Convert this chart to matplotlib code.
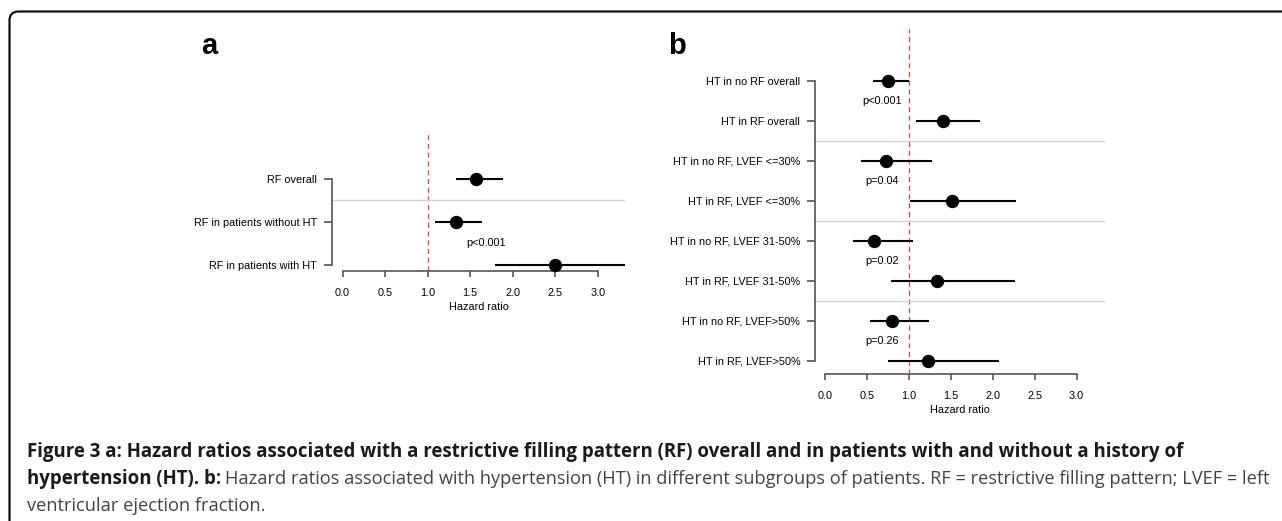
import numpy as np
import matplotlib
matplotlib.use('Agg')
import matplotlib.pyplot as plt
from matplotlib.patches import FancyBboxPatch
from matplotlib.transforms import IdentityTransform

W, H = 1282, 521

# panel a data
a_labels = ['RF overall', 'RF in patients without HT', 'RF in patients with HT']
a_hr = [1.57, 1.33, 2.50]
a_lo = [1.33, 1.09, 1.79]
a_hi = [1.89, 1.64, 3.60]
a_pvals = ['p<0.001']

# panel b data
b_labels = ['HT in no RF overall', 'HT in RF overall',
            'HT in no RF, LVEF <=30%', 'HT in RF, LVEF <=30%',
            'HT in no RF, LVEF 31-50%', 'HT in RF, LVEF 31-50%',
            'HT in no RF, LVEF>50%', 'HT in RF, LVEF>50%']
b_hr = [0.745, 1.41, 0.72, 1.51, 0.58, 1.33, 0.80, 1.23]
b_lo = [0.57, 1.08, 0.43, 1.01, 0.33, 0.78, 0.53, 0.75]
b_hi = [1.00, 1.85, 1.27, 2.28, 1.05, 2.26, 1.24, 2.07]
b_pvals = ['p<0.001', 'p=0.04', 'p=0.02', 'p=0.26']

x_ticks = [0.0, 0.5, 1.0, 1.5, 2.0, 2.5, 3.0]
x_ticklabels = ['0.0', '0.5', '1.0', '1.5', '2.0', '2.5', '3.0']

plt.rcParams['font.family'] = ['Liberation Sans', 'DejaVu Sans']

fig = plt.figure(figsize=(W / 100, H / 100), dpi=100)


def px_axes(left, top, right, bottom):
    return fig.add_axes([left / W, 1 - bottom / H, (right - left) / W, (bottom - top) / H])


def forest(ax, labels, hr, lo, hi, pvals, xlim, ylim, seps, p_x):
    n = len(labels)
    ys = np.arange(n, 0, -1)
    ax.set_xlim(*xlim)
    ax.set_ylim(*ylim)
    ax.axvline(1.0, color='#e8413c', lw=0.9, ls=(0, (4, 3)), zorder=1)
    for s in seps:
        ax.axhline(s, color='#d4d4d4', lw=1.0, zorder=1)
    ax.hlines(ys, lo, hi, color='black', lw=1.5, zorder=2)
    ax.plot(hr, ys, 'o', color='black', ms=8.6, zorder=3)
    # p values sit half a row below the first row of each pair
    for i, p in enumerate(pvals):
        ax.text(p_x, ys[2 * i] - 0.5 if n > 3 else 1.5, p, ha='center', va='center', fontsize=7.8)
    ax.set_yticks(ys)
    ax.set_yticklabels(labels, fontsize=7.8)
    ax.set_xticks(x_ticks)
    ax.set_xticklabels(x_ticklabels, fontsize=7.8)
    ax.set_xlabel('Hazard ratio', fontsize=7.8, labelpad=3)
    for sp in ['top', 'right']:
        ax.spines[sp].set_visible(False)
    ax.spines['left'].set_bounds(ys.min(), ys.max())
    ax.spines['bottom'].set_bounds(0, 3)
    for sp in ['left', 'bottom']:
        ax.spines[sp].set_color('#555555')
        ax.spines[sp].set_linewidth(1.2)
    ax.tick_params(axis='y', length=5.8, width=1.2, color='#555555', pad=4.8)
    ax.tick_params(axis='x', length=4.5, width=1.2, color='#555555', pad=8)


ax_a = px_axes(332, 131.7, 625, 270.7)
forest(ax_a, a_labels, a_hr, a_lo, a_hi, a_pvals,
       (-0.124, 3.32), (0.867, 4.09), [2.5], 1.69)

ax_b = px_axes(815, 29.3, 1105, 373.7)
forest(ax_b, b_labels, b_hr, b_lo, b_hi, b_pvals,
       (-0.123, 3.34), (0.68, 9.29), [6.5, 4.5, 2.5], 0.68)

fig.text(209 / W, 1 - 46 / H, 'a', fontsize=21, fontweight='bold', ha='center', va='center')
fig.text(677 / W, 1 - 46 / H, 'b', fontsize=21, fontweight='bold', ha='center', va='center')

# frame with rounded top-left corner
frame = FancyBboxPatch((9.5, -40), 1400, H - 11.5 + 40,
                       boxstyle='round,pad=0,rounding_size=9',
                       transform=IdentityTransform(), fill=False,
                       edgecolor='#111111', lw=1.6)
fig.add_artist(frame)

# caption
cap_font = ['Open Sans', 'DejaVu Sans']
bold_size = 13.4
reg_size = 13.15
x0 = 27 / W
fig.text(x0, 1 - 457 / H,
         'Figure 3 a: Hazard ratios associated with a restrictive filling pattern (RF) overall '
         'and in patients with and without a history of',
         fontsize=bold_size, fontweight='bold', family=cap_font, color='#1a1a1a', va='baseline')
t_bold = fig.text(x0, 1 - 484 / H, 'hypertension (HT). b:', fontsize=bold_size,
                  fontweight='bold', family=cap_font, color='#1a1a1a', va='baseline')
fig.canvas.draw()
bb = t_bold.get_window_extent()
fig.text(bb.x1 / W + 4 / W, 1 - 484 / H,
         'Hazard ratios associated with hypertension (HT) in different subgroups of patients. '
         'RF = restrictive filling pattern; LVEF = left',
         fontsize=reg_size, family=cap_font, color='#444444', va='baseline')
fig.text(x0, 1 - 511 / H, 'ventricular ejection fraction.', fontsize=reg_size,
         family=cap_font, color='#444444', va='baseline')

fig.savefig('out.png', dpi=100)
